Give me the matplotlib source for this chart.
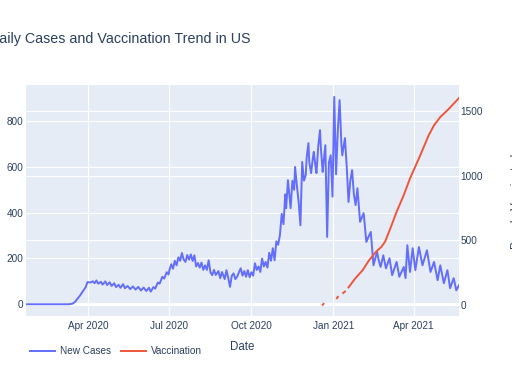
import numpy as np
import pandas as pd
import matplotlib
matplotlib.use("Agg")
import matplotlib.pyplot as plt
import matplotlib.dates as mdates
from matplotlib.transforms import blended_transform_factory

# ── Data ─────────────────────────────────────────────────────────────────────

case_dates = [
    "2020-01-22", "2020-02-15", "2020-03-10", "2020-03-14", "2020-03-17", "2020-03-20",
    "2020-03-23", "2020-03-26", "2020-03-29", "2020-03-31", "2020-04-03", "2020-04-06",
    "2020-04-08", "2020-04-10", "2020-04-12", "2020-04-15", "2020-04-17", "2020-04-20",
    "2020-04-22", "2020-04-25", "2020-04-27", "2020-04-30", "2020-05-02", "2020-05-05",
    "2020-05-07", "2020-05-10", "2020-05-12", "2020-05-15", "2020-05-18", "2020-05-21",
    "2020-05-24", "2020-05-27", "2020-05-30", "2020-06-02", "2020-06-05", "2020-06-08",
    "2020-06-10", "2020-06-13", "2020-06-15", "2020-06-18", "2020-06-20", "2020-06-23",
    "2020-06-25", "2020-06-28", "2020-06-30",
    "2020-07-01", "2020-07-03", "2020-07-05", "2020-07-07", "2020-07-09", "2020-07-11",
    "2020-07-13", "2020-07-15", "2020-07-17", "2020-07-19", "2020-07-21", "2020-07-23",
    "2020-07-25", "2020-07-27", "2020-07-29", "2020-07-31", "2020-08-02", "2020-08-04",
    "2020-08-06", "2020-08-08", "2020-08-10", "2020-08-12", "2020-08-14", "2020-08-16",
    "2020-08-18", "2020-08-20", "2020-08-22", "2020-08-25", "2020-08-27", "2020-08-29",
    "2020-09-01", "2020-09-03", "2020-09-05", "2020-09-07", "2020-09-09", "2020-09-11",
    "2020-09-13", "2020-09-15", "2020-09-17", "2020-09-19", "2020-09-21", "2020-09-23",
    "2020-09-25", "2020-09-27", "2020-09-29", "2020-10-01", "2020-10-03", "2020-10-05",
    "2020-10-07", "2020-10-09", "2020-10-11", "2020-10-13", "2020-10-15", "2020-10-17",
    "2020-10-19", "2020-10-21", "2020-10-23", "2020-10-25", "2020-10-27", "2020-10-29",
    "2020-10-31", "2020-11-02", "2020-11-04", "2020-11-06", "2020-11-08", "2020-11-09",
    "2020-11-11", "2020-11-12", "2020-11-14", "2020-11-16", "2020-11-18", "2020-11-19",
    "2020-11-21", "2020-11-23", "2020-11-25", "2020-11-27", "2020-11-29", "2020-12-01",
    "2020-12-02", "2020-12-04", "2020-12-05", "2020-12-07", "2020-12-09", "2020-12-10",
    "2020-12-12", "2020-12-13", "2020-12-15", "2020-12-17", "2020-12-18", "2020-12-20",
    "2020-12-21", "2020-12-23", "2020-12-25", "2020-12-27", "2020-12-29", "2020-12-31",
    "2021-01-02", "2021-01-04", "2021-01-06", "2021-01-08", "2021-01-10", "2021-01-11",
    "2021-01-13", "2021-01-14", "2021-01-16", "2021-01-18", "2021-01-20", "2021-01-22",
    "2021-01-24", "2021-01-26", "2021-01-28", "2021-01-31", "2021-02-02", "2021-02-04",
    "2021-02-07", "2021-02-10", "2021-02-12", "2021-02-15", "2021-02-17", "2021-02-19",
    "2021-02-21", "2021-02-23", "2021-02-26", "2021-03-01", "2021-03-05",
    "2021-03-08", "2021-03-13", "2021-03-16", "2021-03-21", "2021-03-23", "2021-03-25",
    "2021-03-28", "2021-03-31", "2021-04-03", "2021-04-07", "2021-04-11", "2021-04-16",
    "2021-04-20", "2021-04-24", "2021-04-28", "2021-05-01", "2021-05-05", "2021-05-09",
    "2021-05-12", "2021-05-16", "2021-05-19", "2021-05-22",
]
case_values = [
    0, 0, 0, 2, 10, 25,
    40, 58, 75, 97, 95, 100,
    92, 104, 90, 98, 86, 100,
    84, 96, 80, 92, 75, 85,
    72, 88, 70, 80, 66, 78,
    64, 76, 60, 73, 58, 72,
    55, 75, 68, 95, 90, 120,
    112, 140, 130,
    150, 175, 155, 190, 170, 205,
    190, 224, 195, 185, 215, 195,
    218, 189, 214, 165, 180, 160,
    182, 150, 170, 150, 192, 140,
    127, 150, 128, 145, 114, 141,
    110, 149, 115, 76, 125, 135,
    110, 120, 140, 157, 125, 145,
    120, 149, 118, 140, 125, 179,
    150, 165, 141, 200, 165, 185,
    160, 225, 190, 245, 192, 275,
    260, 302, 395, 350, 480, 420,
    542, 500, 420, 540, 500, 600,
    520, 447, 345, 622, 540, 564,
    640, 704, 620, 573, 640, 666,
    600, 573, 690, 761, 680, 578,
    620, 695, 294, 620, 651, 470,
    906, 568, 760, 892, 700, 651,
    700, 726, 600, 447, 540, 586,
    480, 433, 507, 360, 380, 398,
    272, 300, 316, 170, 200, 229,
    190, 163, 214, 157, 201,
    127, 185, 120, 163, 114, 258,
    141, 245, 149, 250, 170, 236,
    141, 185, 105, 170, 92, 149,
    70, 114, 61, 83,
]

vacc_dates = [
    "2020-12-20", "2020-12-21", "2020-12-22",
    "2021-01-05", "2021-01-06", "2021-01-07",
    "2021-01-12", "2021-01-14", "2021-01-15",
    "2021-01-18", "2021-01-25", "2021-02-03", "2021-02-10", "2021-02-18", "2021-02-24",
    "2021-02-28", "2021-03-06", "2021-03-13", "2021-03-21", "2021-03-28", "2021-04-07",
    "2021-04-18", "2021-04-24", "2021-05-01", "2021-05-09", "2021-05-22",
]
vacc_values = [
    0, 8, np.nan,
    52, 62, np.nan,
    92, 103, np.nan,
    135, 200, 270, 345, 412, 450,
    489, 593, 721, 850, 979, 1134,
    1314, 1391, 1455, 1507, 1602,
]

left_ticks = [0, 200, 400, 600, 800]
right_ticks = [0, 500, 1000, 1500]
x_ticks = ["2020-04-01", "2020-07-01", "2020-10-01", "2021-01-01", "2021-04-01"]

# ── Style ────────────────────────────────────────────────────────────────────

PLOT_BG = "#E5ECF6"
TEXT_CLR = "#2a3f5f"
BLUE = "#636efa"
RED = "#EF553B"
FONT = "Liberation Sans"

plt.rcParams["font.family"] = FONT


def main():
    fig = plt.figure(figsize=(5.12, 3.84), dpi=100)
    W, H = 512, 384
    ax = fig.add_axes([26 / W, 1 - 315.7 / H, 433 / W, 230.7 / H])
    ax2 = ax.twinx()
    ax.set_facecolor(PLOT_BG)
    ax2.patch.set_visible(False)

    cd = pd.to_datetime(case_dates)
    vd = pd.to_datetime(vacc_dates)

    ax.set_xlim(cd[0], cd[-1])
    ax.set_ylim(-50, 958)
    ax2.set_ylim(-84, 1703)

    # gridlines (both scales) behind the traces
    for t in x_ticks:
        ax.axvline(pd.Timestamp(t), color="white", lw=0.8, zorder=0)
    for v in left_ticks:
        ax.axhline(v, color="white", lw=1.5 if v == 0 else 0.8, zorder=0)
    right_trans = blended_transform_factory(ax.transAxes, ax2.transData)
    for v in right_ticks:
        ax.plot([0, 1], [v, v], transform=right_trans, color="white",
                lw=1.5 if v == 0 else 0.8, zorder=0)

    l1, = ax.plot(cd, case_values, color=BLUE, lw=1.4, label="New Cases", zorder=2)
    l2, = ax2.plot(vd, vacc_values, color=RED, lw=1.4, label="Vaccination", zorder=2)

    for a in (ax, ax2):
        for s in a.spines.values():
            s.set_visible(False)
        a.tick_params(length=0, labelsize=7.2, labelcolor=TEXT_CLR)
    ax.tick_params(axis="y", pad=2)
    ax2.tick_params(axis="y", pad=1)
    ax.tick_params(axis="x", pad=4)

    ax.set_yticks(left_ticks)
    ax2.set_yticks(right_ticks)
    ax.set_xticks(pd.to_datetime(x_ticks))
    ax.xaxis.set_major_formatter(mdates.DateFormatter("%b %Y"))

    fig.text(242.5 / W, 1 - 347 / H, "Date", ha="center", va="center",
             fontsize=8.3, color=TEXT_CLR)
    # right axis title, mostly outside the canvas as in the reference
    fig.text(517 / W, 1 - 201 / H, "People Vaccinated", ha="center", va="center",
             rotation=90, fontsize=8.3, color=TEXT_CLR)
    fig.text(-11 / W, 1 - 43 / H, "Daily Cases and Vaccination Trend in US",
             ha="left", va="baseline", fontsize=10.3, color=TEXT_CLR)

    fig.legend(handles=[l1, l2], loc="center left",
               bbox_to_anchor=(30 / W, 1 - 351 / H), ncol=2, frameon=False,
               fontsize=7.2, labelcolor=TEXT_CLR, handlelength=2.5,
               handletextpad=0.5, columnspacing=1.0, borderpad=0, borderaxespad=0)

    fig.savefig("out.png", dpi=100)
    plt.close(fig)


if __name__ == "__main__":
    main()
